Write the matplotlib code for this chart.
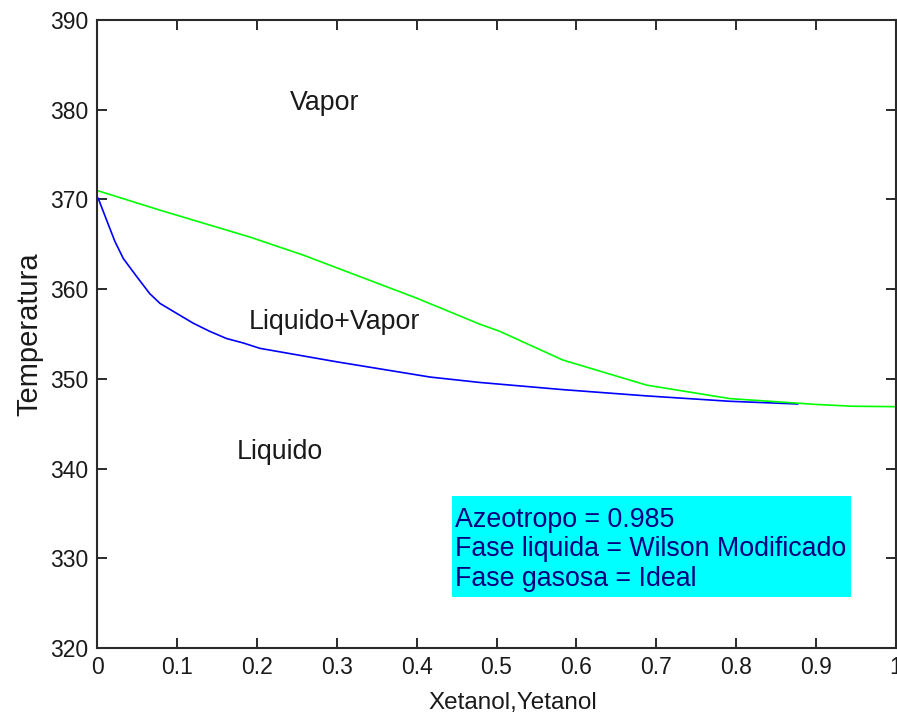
"""Diagrama T-x-y etanol (Wilson modificado / fase gaseosa ideal)."""

import matplotlib
matplotlib.use("Agg")
import matplotlib.pyplot as plt
from matplotlib.patches import Rectangle

# curva de burbuja (liquido)
x_liq = [0, 0.0016, 0.012, 0.0225, 0.033, 0.0497, 0.066, 0.079, 0.0997, 0.1205,
         0.141, 0.162, 0.183, 0.204, 0.3, 0.417, 0.479, 0.583, 0.688, 0.792, 0.877]
T_liq = [370.3, 370.1, 367.7, 365.3, 363.4, 361.4, 359.5, 358.4, 357.3, 356.2,
         355.3, 354.5, 354.0, 353.4, 351.9, 350.2, 349.6, 348.8, 348.1, 347.5, 347.2]

# curva de rocio (vapor)
y_vap = [0, 0.079, 0.1915, 0.258, 0.329, 0.400, 0.479, 0.504, 0.583, 0.688,
         0.792, 0.9, 0.945, 1.0]
T_vap = [371.0, 368.8, 365.8, 363.8, 361.4, 359.0, 356.1, 355.3, 352.1, 349.3,
         347.8, 347.15, 346.95, 346.9]

x_ticks = [0, 0.1, 0.2, 0.3, 0.4, 0.5, 0.6, 0.7, 0.8, 0.9, 1]
x_ticklabels = ["0", "0.1", "0.2", "0.3", "0.4", "0.5", "0.6", "0.7", "0.8", "0.9", "1"]
T_ticks = [320, 330, 340, 350, 360, 370, 380, 390]

INFO = "Azeotropo = 0.985\nFase liquida = Wilson Modificado\nFase gasosa = Ideal"
FS = 16.5
FS_TXT = 19.3
AX_C = "#2a2a2a"
TXT = "#1a1a1a"

plt.rcParams["font.family"] = ["Liberation Sans", "DejaVu Sans"]

fig = plt.figure(figsize=(8.97, 7.22), dpi=100)
ax = fig.add_axes([97 / 897, 74 / 722, 799 / 897, 628 / 722])

ax.plot(x_liq, T_liq, color="#0000ff", lw=1.2)
ax.plot(y_vap, T_vap, color="#00ff00", lw=1.2)

ax.set_xlim(0, 1)
ax.set_ylim(320, 390)
ax.set_xticks(x_ticks)
ax.set_xticklabels(x_ticklabels)
ax.set_yticks(T_ticks)
ax.tick_params(direction="in", length=7, width=1.4, color=AX_C,
               top=True, right=True, labelsize=FS, labelcolor=TXT, pad=6)
for s in ax.spines.values():
    s.set_color(AX_C)
    s.set_linewidth(1.5)

ax.set_xlabel("Xetanol,Yetanol", fontsize=17.5, color=TXT)
ax.xaxis.set_label_coords(0.52, -0.07)
ax.set_ylabel("Temperatura", fontsize=21, color=TXT, labelpad=5)

ax.text(0.2415, 380.75, "Vapor", fontsize=FS_TXT, va="center", color=TXT)
ax.text(0.19, 356.3, "Liquido+Vapor", fontsize=FS_TXT, va="center", color=TXT)
ax.text(0.175, 341.8, "Liquido", fontsize=FS_TXT, va="center", color=TXT)

# caja de informacion
ax.add_patch(Rectangle((0.444, 325.7), 0.5, 11.2, fc="#00ffff", ec="none", zorder=3))
ax.text(0.448, 331.0, INFO, fontsize=FS_TXT, va="center", ha="left",
        color="#000080", linespacing=1.18, zorder=4)

fig.savefig("out.png", dpi=100, facecolor="white")
